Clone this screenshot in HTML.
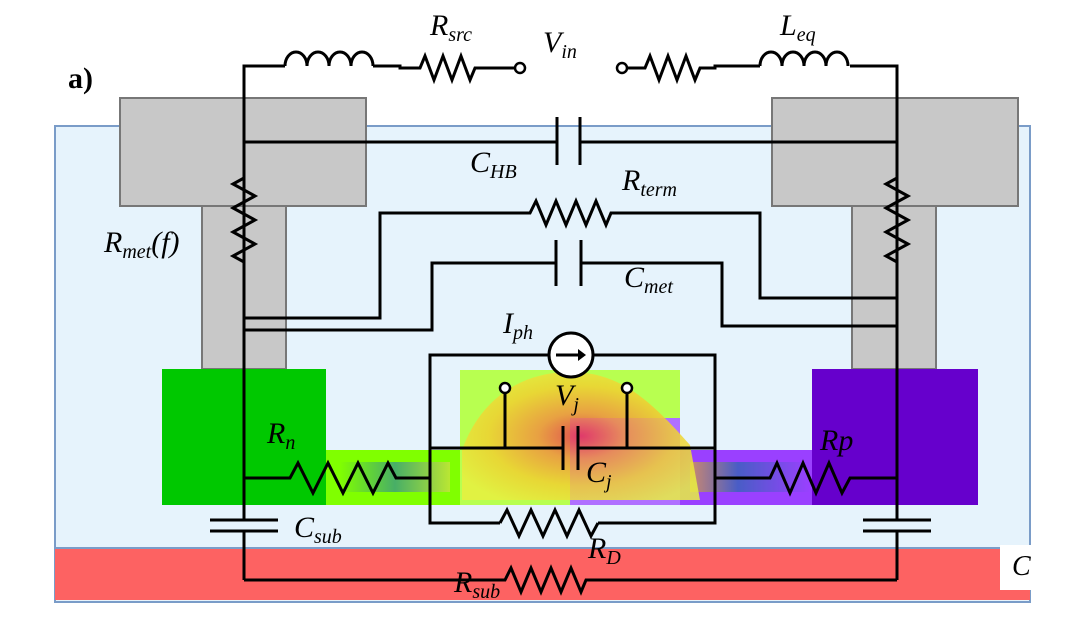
<!DOCTYPE html>
<html><head><meta charset="utf-8"><style>
html,body{margin:0;padding:0;background:#fff;}
svg{display:block}
text{font-family:"Liberation Serif",serif;font-style:italic;fill:#000}
</style></head><body>
<svg width="1070" height="620" viewBox="0 0 1070 620" xmlns="http://www.w3.org/2000/svg">
<defs>
<linearGradient id="gl" x1="0" x2="1"><stop offset="0" stop-color="#80ff00"/><stop offset="0.5" stop-color="#3a9a80"/><stop offset="1" stop-color="#c8e040"/></linearGradient>
<linearGradient id="gr" x1="0" x2="1"><stop offset="0" stop-color="#d09060"/><stop offset="0.4" stop-color="#4060c0"/><stop offset="1" stop-color="#9a40ff"/></linearGradient>
<radialGradient id="blob" cx="0.5" cy="0.5" r="0.6"><stop offset="0" stop-color="#e83050"/><stop offset="0.3" stop-color="#f09040"/><stop offset="0.65" stop-color="#f0d030"/><stop offset="1" stop-color="#e8f040"/></radialGradient>
</defs>
<rect x="55" y="126" width="975" height="476" fill="#e6f3fc" stroke="#7a9cc8" stroke-width="2"/>
<rect x="55" y="548" width="975" height="52" fill="#fd6262"/>
<line x1="55" y1="548" x2="1030" y2="548" stroke="#7a9cc8" stroke-width="2"/>
<rect x="1000" y="545" width="35" height="45" fill="#fff"/>
<text x="1012" y="575" font-size="28">C</text>
<g fill="#c8c8c8" stroke="#777" stroke-width="2">
<rect x="202" y="205" width="84" height="164"/>
<rect x="120" y="98" width="246" height="108"/>
<rect x="852" y="205" width="84" height="164"/>
<rect x="772" y="98" width="246" height="108"/>
</g>
<rect x="162" y="369" width="164" height="136" fill="#00c800"/>
<rect x="812" y="369" width="166" height="136" fill="#6600cc"/>
<rect x="326" y="450" width="140" height="55" fill="#80ff00"/>
<rect x="340" y="462" width="110" height="30" fill="url(#gl)" opacity="0.8"/>
<rect x="680" y="450" width="132" height="55" fill="#9a40ff"/>
<rect x="690" y="462" width="120" height="30" fill="url(#gr)" opacity="0.9"/>
<rect x="460" y="370" width="220" height="135" fill="#b8ff50"/>
<rect x="570" y="418" width="110" height="87" fill="#b070ff"/>
<path d="M462 450 C480 400 520 372 570 372 C620 372 650 400 690 445 L700 500 L462 500 Z" fill="url(#blob)" opacity="0.85"/>
<g fill="none" stroke="#000" stroke-width="3">
<path d="M244 520 V66 H285"/>
<path d="M244 531 V580"/>
<path d="M285 66 a11 14 0 0 1 22 0 a11 14 0 0 1 22 0 a11 14 0 0 1 22 0 a11 14 0 0 1 22 0"/>
<path d="M373 66 H400 V68 H420 l5 -12 l9 24 l9 -24 l9 24 l9 -24 l9 24 l5 -12 H515"/>
<path d="M897 520 V66 H850"/>
<path d="M897 531 V580"/>
<path d="M760 66 a11 14 0 0 1 22 0 a11 14 0 0 1 22 0 a11 14 0 0 1 22 0 a11 14 0 0 1 22 0"/>
<path d="M628 68 H645 l5 -12 l9 24 l9 -24 l9 24 l9 -24 l9 24 l5 -12 H715 V66 H760"/>
<path d="M244 142 H557 M557 117 V165 M580 117 V165 M580 142 H897"/>
<path d="M244 178 l-11 6 l22 12 l-22 12 l22 12 l-22 12 l22 12 l-22 12 l11 6"/>
<path d="M897 178 l-11 6 l22 12 l-22 12 l22 12 l-22 12 l22 12 l-22 12 l11 6"/>
<path d="M244 318 H380 V213 H530 l6 -12 l10 24 l10 -24 l10 24 l10 -24 l10 24 l10 -24 l10 24 l5 -12 H760 V298 H897"/>
<path d="M244 330 H432 V263 H556 M556 240 V286 M581 240 V286 M581 263 H722 V326 H897"/>
<path d="M430 478 V355 H549 M593 355 H715 V523 H598 M430 478 V523 H500"/>
<circle cx="571" cy="355" r="22" fill="#fff"/>
<path d="M556 355 H584"/>
<path d="M430 448 H563 M563 426 V470 M578 426 V470 M578 448 H715"/>
<path d="M505 448 V390 M627 448 V390"/>
<path d="M500 523 l7 -13 l12 26 l12 -26 l12 26 l12 -26 l12 26 l12 -26 l12 26 l7 -13"/>
<path d="M244 478 H290 l8 -15 l15 30 l15 -30 l15 30 l15 -30 l15 30 l15 -30 l8 15 H430"/>
<path d="M715 478 H770 l7 -15 l13 30 l13 -30 l13 30 l13 -30 l13 30 l8 -15 H897"/>
<path d="M210 520 H278 M210 531 H278"/>
<path d="M863 520 H931 M863 531 H931"/>
<path d="M244 580 H505 l6 -12 l10 24 l10 -24 l10 24 l10 -24 l10 24 l10 -24 l10 24 l5 -12 H897"/>
</g>
<path d="M586 355 l-8 -6 v12 z" fill="#000"/>
<circle cx="520" cy="68" r="5" fill="#fff" stroke="#000" stroke-width="2.5"/>
<circle cx="622" cy="68" r="5" fill="#fff" stroke="#000" stroke-width="2.5"/>
<circle cx="505" cy="388" r="5" fill="#fff" stroke="#000" stroke-width="2.5"/>
<circle cx="627" cy="388" r="5" fill="#fff" stroke="#000" stroke-width="2.5"/>
<text x="68" y="88" font-size="30" font-weight="bold" style="font-style:normal">a)</text>
<text x="430" y="35" font-size="30">R<tspan font-size="20" dy="6">src</tspan></text>
<text x="543" y="52" font-size="30">V<tspan font-size="20" dy="6">in</tspan></text>
<text x="780" y="35" font-size="30">L<tspan font-size="20" dy="6">eq</tspan></text>
<text x="470" y="172" font-size="30">C<tspan font-size="20" dy="6">HB</tspan></text>
<text x="622" y="190" font-size="30">R<tspan font-size="20" dy="6">term</tspan></text>
<text x="104" y="252" font-size="30">R<tspan font-size="20" dy="6">met</tspan><tspan dy="-6">(f)</tspan></text>
<text x="624" y="287" font-size="30">C<tspan font-size="20" dy="6">met</tspan></text>
<text x="503" y="333" font-size="30">I<tspan font-size="20" dy="6">ph</tspan></text>
<text x="555" y="405" font-size="30">V<tspan font-size="20" dy="6">j</tspan></text>
<text x="586" y="482" font-size="30">C<tspan font-size="20" dy="6">j</tspan></text>
<text x="267" y="443" font-size="30">R<tspan font-size="20" dy="6">n</tspan></text>
<text x="820" y="450" font-size="30">Rp</text>
<text x="294" y="537" font-size="30">C<tspan font-size="20" dy="6">sub</tspan></text>
<text x="588" y="558" font-size="30">R<tspan font-size="20" dy="6">D</tspan></text>
<text x="454" y="592" font-size="30">R<tspan font-size="20" dy="6">sub</tspan></text>
</svg>
</body></html>
